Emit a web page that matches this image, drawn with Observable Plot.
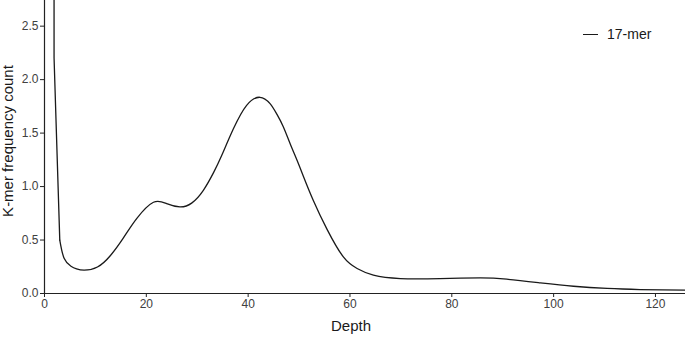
<!DOCTYPE html>
<html>
<head>
<meta charset="utf-8">
<script src="https://cdn.jsdelivr.net/npm/d3@7"></script>
<script src="https://cdn.jsdelivr.net/npm/@observablehq/plot@0.6"></script>
<style>
  html, body { margin: 0; padding: 0; background: #fff; }
  #wrap { position: relative; width: 685px; height: 337px; font-family: "Liberation Sans", Arial, sans-serif; }
  #legend { position: absolute; left: 583px; top: 26px; display: flex; align-items: center; font-size: 14px; color: #1a1a1a; }
  #legend .sw { width: 15px; height: 0; border-top: 1.3px solid #1a1a1a; margin-right: 9px; }
</style>
</head>
<body>
<div id="wrap"><div id="legend"><span class="sw"></span><span>17-mer</span></div></div>
<script>
const seriesName = "17-mer";
// steep low-depth head (straight segments)
const depthHead = [1.87, 1.88, 3.0];
const countHead = [5.0, 2.2, 0.50];
// smooth remainder
const depth = [3.0, 3.85, 5.2, 6.3, 7.8, 10.4, 13.0, 15.5, 18.1, 21.4, 24.0, 26.6, 28.9, 31.2, 33.2, 34.8, 37.1, 39.7, 42.3, 44.3, 45.6, 46.9, 48.25, 49.6, 50.9, 52.8, 55.5, 58.7, 61.4, 64.6, 69.9, 77.7, 85.6, 90.8, 97.4, 103.9, 110.5, 117, 126];
const count = [0.50, 0.33, 0.255, 0.23, 0.218, 0.248, 0.358, 0.52, 0.70, 0.853, 0.84, 0.81, 0.845, 0.965, 1.13, 1.29, 1.54, 1.76, 1.835, 1.776, 1.68, 1.56, 1.40, 1.246, 1.09, 0.87, 0.60, 0.342, 0.234, 0.171, 0.14, 0.14, 0.146, 0.134, 0.10, 0.068, 0.047, 0.037, 0.031];
const yTicks = [0, 0.5, 1.0, 1.5, 2.0, 2.5];
const xTicks = [0, 20, 40, 60, 80, 100, 120];
const xTitle = "Depth";
const yTitle = "K-mer frequency count";

const head = depthHead.map((d, i) => ({depth: d, count: countHead[i], series: seriesName}));
const body = depth.map((d, i) => ({depth: d, count: count[i], series: seriesName}));

const chart = Plot.plot({
  width: 685,
  height: 337,
  marginLeft: 44,
  marginRight: 0,
  marginTop: 0,
  marginBottom: 44,
  style: {fontFamily: "'Liberation Sans', Arial, sans-serif", background: "#fff"},
  x: {domain: [0, 125.9]},
  y: {domain: [0, 2.74]},
  marks: [
    Plot.line(head, {x: "depth", y: "count", curve: "linear", stroke: "#1a1a1a", strokeWidth: 1.3, clip: true}),
    Plot.line(body, {x: "depth", y: "count", curve: "natural", stroke: "#1a1a1a", strokeWidth: 1.3, clip: true}),
    Plot.axisX({ticks: xTicks, tickSize: 4, tickPadding: 2, fontSize: 12, color: "#404040", stroke: "#222", label: null}),
    Plot.axisY({ticks: yTicks, tickFormat: d3.format(".1f"), tickSize: 4, tickPadding: 2, fontSize: 12, color: "#404040", stroke: "#222", label: null}),
    Plot.ruleX([0], {stroke: "#222", strokeWidth: 1.2}),
    Plot.ruleY([0], {stroke: "#222", strokeWidth: 1.2}),
    Plot.text([xTitle], {text: d => d, frameAnchor: "bottom", dy: 37, dx: -14, fontSize: 15, fill: "#1a1a1a"}),
    Plot.text([yTitle], {text: d => d, frameAnchor: "left", textAnchor: "middle", rotate: -90, dx: -36, dy: -6, fontSize: 15, fill: "#1a1a1a"})
  ]
});
document.getElementById("wrap").prepend(chart);
</script>
</body>
</html>
